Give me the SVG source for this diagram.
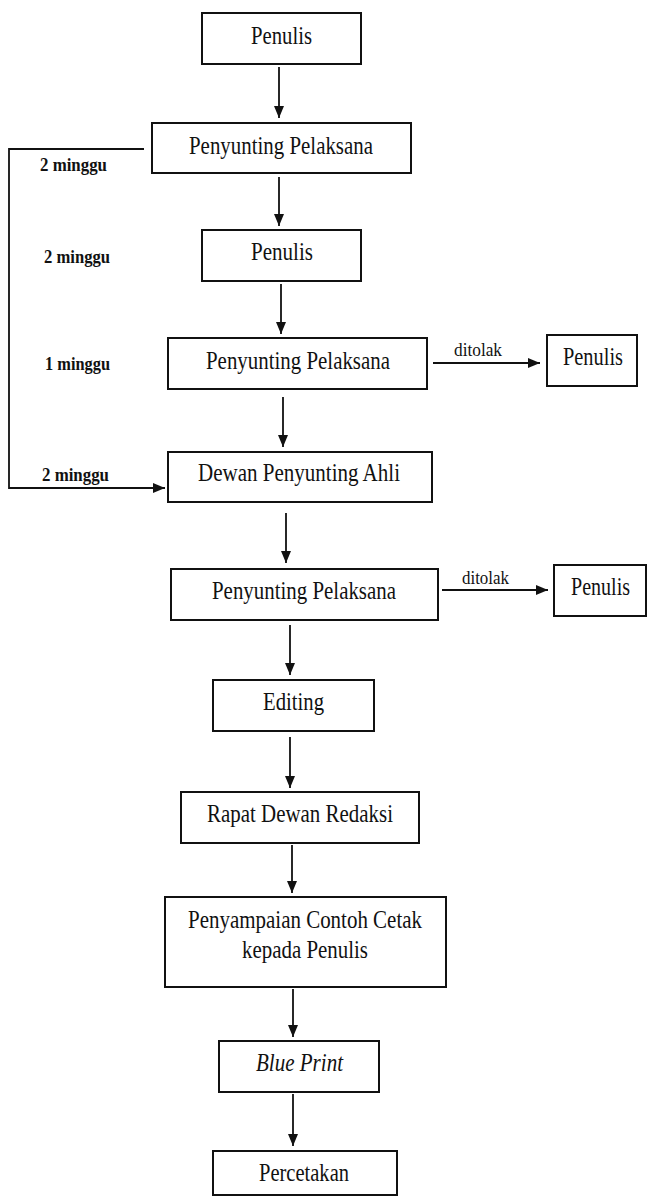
<svg xmlns="http://www.w3.org/2000/svg" width="647" height="1197" viewBox="0 0 647 1197">
<defs>
<marker id="ah" markerUnits="userSpaceOnUse" markerWidth="12" markerHeight="10" refX="12" refY="5" orient="auto">
<path d="M0,0 L12,5 L0,10 z" fill="#111"/>
</marker>
<style>
.box{fill:#fff;stroke:#111;stroke-width:2}
.t{font-family:"Liberation Serif","Times New Roman",serif;font-size:25.5px;fill:#111}
.lb{font-family:"Liberation Serif","Times New Roman",serif;font-size:18px;fill:#111}
.b{font-weight:bold}
.c{fill:none;stroke:#111;stroke-width:1.8}
</style>
</defs>
<rect width="647" height="1197" fill="#fff"/>
<g id="connectors">
<line class="c" x1="279" y1="67" x2="279" y2="118" marker-end="url(#ah)"/>
<line class="c" x1="279" y1="177" x2="279" y2="226" marker-end="url(#ah)"/>
<line class="c" x1="281" y1="284" x2="281" y2="334" marker-end="url(#ah)"/>
<line class="c" x1="283" y1="397" x2="283" y2="447" marker-end="url(#ah)"/>
<line class="c" x1="286" y1="513" x2="286" y2="563" marker-end="url(#ah)"/>
<line class="c" x1="290" y1="625" x2="290" y2="675" marker-end="url(#ah)"/>
<line class="c" x1="290" y1="737" x2="290" y2="788" marker-end="url(#ah)"/>
<line class="c" x1="292" y1="845" x2="292" y2="893" marker-end="url(#ah)"/>
<line class="c" x1="293" y1="989" x2="293" y2="1037" marker-end="url(#ah)"/>
<line class="c" x1="293" y1="1094" x2="293" y2="1146" marker-end="url(#ah)"/>
<line class="c" x1="433" y1="363" x2="540" y2="363" marker-end="url(#ah)"/>
<line class="c" x1="442" y1="590" x2="548" y2="590" marker-end="url(#ah)"/>
<path class="c" d="M144,149 H9 V488 H165" marker-end="url(#ah)"/>
<text class="lb b" x="40" y="171" textLength="67" lengthAdjust="spacingAndGlyphs">2 minggu</text>
<text class="lb b" x="44" y="263" textLength="66" lengthAdjust="spacingAndGlyphs">2 minggu</text>
<text class="lb b" x="45" y="370" textLength="65" lengthAdjust="spacingAndGlyphs">1 minggu</text>
<text class="lb b" x="42" y="481" textLength="67" lengthAdjust="spacingAndGlyphs">2 minggu</text>
<text class="lb" x="454" y="356" textLength="48" lengthAdjust="spacingAndGlyphs">ditolak</text>
<text class="lb" x="462" y="584" textLength="47" lengthAdjust="spacingAndGlyphs">ditolak</text>
</g>
<g id="n1"><rect class="box" x="202" y="13" width="159" height="51"/><text class="t" x="251" y="44" textLength="61" lengthAdjust="spacingAndGlyphs">Penulis</text></g>
<g id="n2"><rect class="box" x="152" y="123" width="259" height="50"/><text class="t" x="189" y="154" textLength="184" lengthAdjust="spacingAndGlyphs">Penyunting Pelaksana</text></g>
<g id="n3"><rect class="box" x="202" y="230" width="159" height="51"/><text class="t" x="251" y="260" textLength="62" lengthAdjust="spacingAndGlyphs">Penulis</text></g>
<g id="n4"><rect class="box" x="168" y="338" width="259" height="51"/><text class="t" x="206" y="369" textLength="184" lengthAdjust="spacingAndGlyphs">Penyunting Pelaksana</text></g>
<g id="n4r"><rect class="box" x="547" y="335" width="90" height="51"/><text class="t" x="563" y="365" textLength="60" lengthAdjust="spacingAndGlyphs">Penulis</text></g>
<g id="n5"><rect class="box" x="168" y="452" width="264" height="50"/><text class="t" x="198" y="481" textLength="202" lengthAdjust="spacingAndGlyphs">Dewan Penyunting Ahli</text></g>
<g id="n6"><rect class="box" x="171" y="569" width="267" height="51"/><text class="t" x="212" y="599" textLength="184" lengthAdjust="spacingAndGlyphs">Penyunting Pelaksana</text></g>
<g id="n6r"><rect class="box" x="554" y="565" width="92" height="51"/><text class="t" x="571" y="595" textLength="59" lengthAdjust="spacingAndGlyphs">Penulis</text></g>
<g id="n7"><rect class="box" x="213" y="680" width="161" height="51"/><text class="t" x="263" y="710" textLength="61" lengthAdjust="spacingAndGlyphs">Editing</text></g>
<g id="n8"><rect class="box" x="181" y="792" width="238" height="51"/><text class="t" x="207" y="822" textLength="186" lengthAdjust="spacingAndGlyphs">Rapat Dewan Redaksi</text></g>
<g id="n9"><rect class="box" x="165" y="897" width="281" height="90"/><text class="t" x="188" y="928" textLength="234" lengthAdjust="spacingAndGlyphs">Penyampaian Contoh Cetak</text><text class="t" x="242" y="958" textLength="126" lengthAdjust="spacingAndGlyphs">kepada Penulis</text></g>
<g id="n10"><rect class="box" x="219" y="1041" width="160" height="51"/><text class="t" x="256" y="1071" font-style="italic" textLength="87" lengthAdjust="spacingAndGlyphs">Blue Print</text></g>
<g id="n11"><rect class="box" x="213" y="1151" width="184" height="44"/><text class="t" x="259" y="1181" textLength="90" lengthAdjust="spacingAndGlyphs">Percetakan</text></g>
</svg>
